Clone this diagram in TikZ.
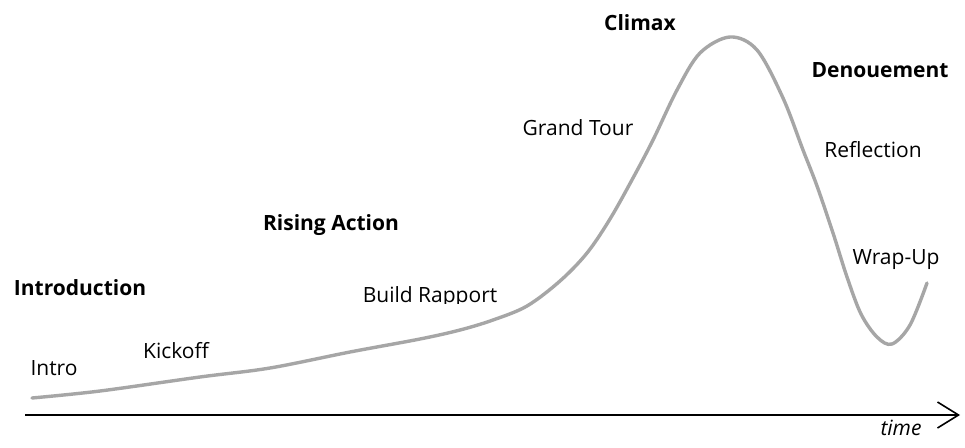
\documentclass[tikz,border=0pt]{standalone}
\usepackage{fontspec}
\setmainfont{Open Sans}
\usetikzlibrary{arrows.meta}
\begin{document}
\begin{tikzpicture}[x=1pt,y=-1pt,
  phase/.style={font=\fontsize{21}{25}\selectfont\bfseries, inner sep=0pt, anchor=base},
  beat/.style={font=\fontsize{21}{25}\selectfont, inner sep=0pt, anchor=base},
  arc/.style={line width=3.4pt, color=black!35, line cap=round, line join=round},
  axis/.style={line width=1.6pt, -{Straight Barb[length=21pt, width=26pt, line width=1.6pt]}}]
\useasboundingbox[fill=white] (0,0) rectangle (965,447);

% phase headings
\node[phase] (climax) at (640,30) {Climax};
\node[phase] (denoue) at (880,77) {Denouement};
\node[phase] (rising) at (331,230) {Rising Action};
\node[phase] (introd) at (80,295) {Introduction};

% story beats
\node[beat] (grand) at (578,135) {Grand Tour};
\node[beat] (reflect) at (873,157) {Reflection};
\node[beat] (wrap) at (896,264) {Wrap-Up};
\node[beat] (kick) at (176,358) {Kickoff};
\node[beat] (intro) at (54,375) {Intro};
\begin{scope}
  \clip (340,270) rectangle (520,303.5);
  \node[beat] (build) at (430,302) {Build Rapport};
\end{scope}

% the tension curve
\draw[arc] plot[smooth, tension=0.55] coordinates {
  (32,398) (100,391) (200,377) (270,368) (350,352) (420,339) (460,330)
  (493,320) (527,306) (560,281) (587,253) (610,219) (633,178) (653,140)
  (677,90) (700,53) (730,37) (757,50) (783,98) (803,150) (817,186)
  (833,233) (847,277) (861,314) (877,337) (892,344) (910,325) (927,283)};

% time axis
\coordinate (t0) at (25,415);
\coordinate (t1) at (960,415);
\draw[axis] (t0) -- (t1);
\node[font=\fontsize{21}{25}\selectfont\itshape, inner sep=0pt, anchor=base] (time) at (901,435) {time};
\end{tikzpicture}
\end{document}
